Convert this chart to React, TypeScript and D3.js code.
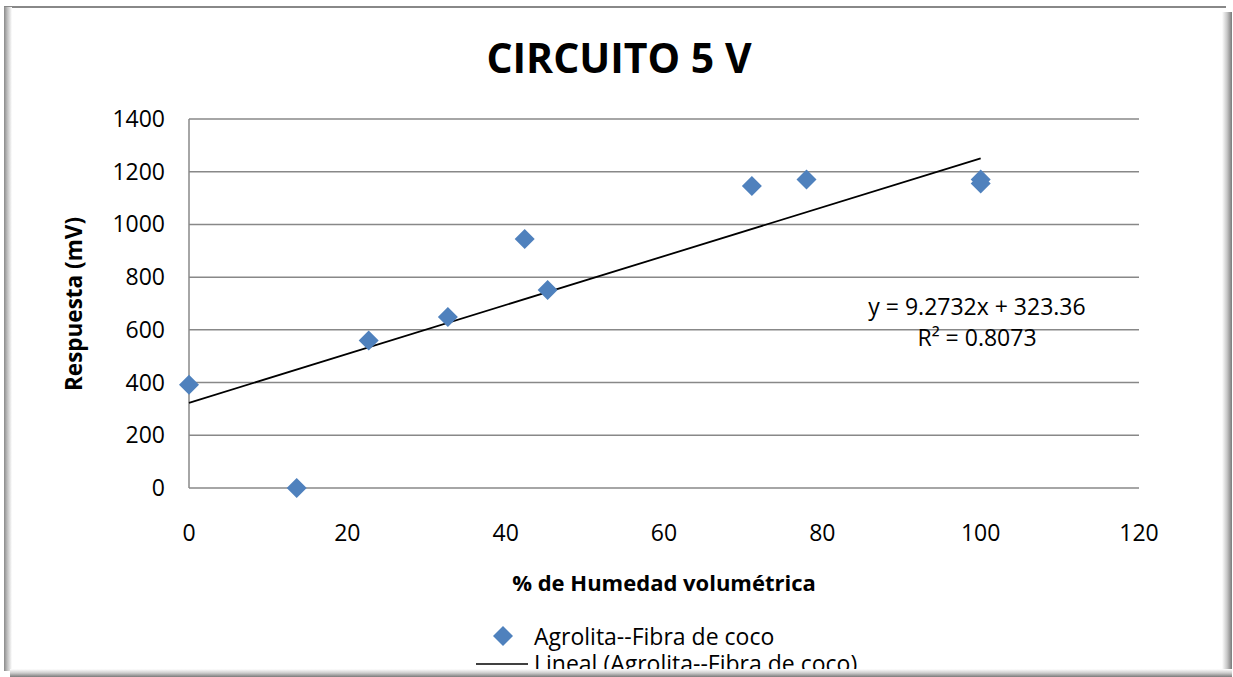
import React from "react";
import * as d3 from "d3";

const humedad = [0, 13.6, 22.7, 32.7, 42.4, 45.3, 71.1, 78.0, 100, 100];
const respuesta = [392, 0, 560, 649, 945, 751, 1146, 1170, 1170, 1155];
const yTicks = [0, 200, 400, 600, 800, 1000, 1200, 1400];
const xTicks = [0, 20, 40, 60, 80, 100, 120];
const slope = 9.2732;
const intercept = 323.36;
const r2 = 0.8073;
const titleText = "CIRCUITO 5 V";
const seriesName = "Agrolita--Fibra de coco";

const W = 1233;
const H = 677;
const FONT = "'Open Sans', 'Noto Sans', sans-serif";

export default function App() {
  const x = d3.scaleLinear().domain([0, 120]).range([189, 1139]);
  const y = d3.scaleLinear().domain([0, 1400]).range([488, 119]);
  const r = 10;
  const dp = d3.path();
  dp.moveTo(0, -r);
  dp.lineTo(r, 0);
  dp.lineTo(0, r);
  dp.lineTo(-r, 0);
  dp.closePath();
  const diamond = dp.toString();
  const trend = d3
    .line<number>()
    .x((d) => x(d))
    .y((d) => y(slope * d + intercept))([0, 100]) as string;

  return (
    <svg
      width={W}
      height={H}
      style={{ position: "absolute", left: 0, top: 0, background: "#fff" }}
      fontFamily={FONT}
    >
      <defs>
        <linearGradient id="rs" x1="0" x2="1" y1="0" y2="0">
          <stop offset="0" stopColor="#ffffff" />
          <stop offset="0.5" stopColor="#c8c8c8" />
          <stop offset="1" stopColor="#7a7a7a" />
        </linearGradient>
        <linearGradient id="bs" x1="0" x2="0" y1="0" y2="1">
          <stop offset="0" stopColor="#ffffff" />
          <stop offset="0.5" stopColor="#cccccc" />
          <stop offset="1" stopColor="#7a7a7a" />
        </linearGradient>
        <linearGradient id="ls" x1="0" x2="1" y1="0" y2="0">
          <stop offset="0" stopColor="#8a8a8a" />
          <stop offset="0.4" stopColor="#bdbdbd" />
          <stop offset="1" stopColor="#ffffff" />
        </linearGradient>
      </defs>
      <rect x={0} y={0} width={W} height={H} fill="#fff" />

      {yTicks.map((t) => (
        <line key={"g" + t} x1={189} x2={1139} y1={y(t)} y2={y(t)} stroke="#888" strokeWidth={1.5} />
      ))}
      <line x1={189} x2={189} y1={119} y2={488} stroke="#888" strokeWidth={1.5} />

      {yTicks.map((t) => (
        <text key={"y" + t} x={165} y={y(t) + 8} textAnchor="end" fontSize={23} fill="#000">
          {t}
        </text>
      ))}
      {xTicks.map((t) => (
        <text key={"x" + t} x={x(t)} y={541} textAnchor="middle" fontSize={23} fill="#000">
          {t}
        </text>
      ))}

      <path d={trend} fill="none" stroke="#000" strokeWidth={1.8} />

      {humedad.map((h, i) => (
        <path key={"p" + i} d={diamond} transform={`translate(${x(h)},${y(respuesta[i])})`} fill="#4F81BD" />
      ))}

      <text x={977} y={315} textAnchor="middle" fontSize={23}>
        {`y = ${slope}x + ${intercept}`}
      </text>
      <text x={977} y={346} textAnchor="middle" fontSize={23}>
        {`R² = ${r2}`}
      </text>

      <text x={619} y={73} textAnchor="middle" fontSize={41} fontWeight="bold">
        {titleText}
      </text>

      <text x={664} y={591} textAnchor="middle" fontSize={22} fontWeight="bold">
        % de Humedad volumétrica
      </text>
      <text
        transform="translate(82,304) rotate(-90)"
        textAnchor="middle"
        fontSize={22.5}
        fontWeight="bold"
      >
        Respuesta (mV)
      </text>

      <path d={diamond} transform="translate(503,636)" fill="#4F81BD" />
      <text x={534} y={645} fontSize={23}>
        {seriesName}
      </text>
      <line x1={476} x2={528} y1={664} y2={664} stroke="#000" strokeWidth={1.5} />
      <text x={534} y={672} fontSize={23}>
        {`Lineal (${seriesName})`}
      </text>

      <line x1={4} x2={1226} y1={7} y2={7} stroke="#888" strokeWidth={2} />
      <rect x={4} y={7} width={8} height={664} fill="url(#ls)" />
      <rect x={1222} y={12} width={10} height={665} fill="url(#rs)" />
      <rect x={10} y={669} width={1222} height={8} fill="url(#bs)" />
    </svg>
  );
}
